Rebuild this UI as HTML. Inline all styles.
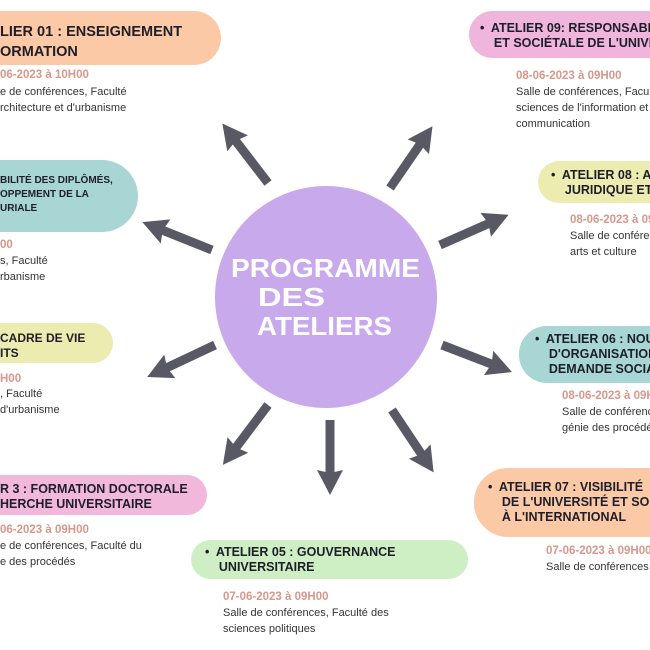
<!DOCTYPE html>
<html><head><meta charset="utf-8"><style>
html,body{margin:0;width:650px;height:650px;overflow:hidden}
#w{position:relative;width:650px;height:650px;overflow:hidden;background:#fff;font-family:"Liberation Sans",sans-serif;color:#222}
.p{position:absolute;border-radius:30px}
.t{position:absolute;font-weight:bold;color:#1e1e2a;white-space:nowrap;line-height:15px;font-size:12.5px}
.d{position:absolute;font-weight:bold;color:#d8978a;font-size:11.5px;white-space:nowrap}
.b{position:absolute;font-size:11px;line-height:16px;color:#333;white-space:nowrap}
</style></head><body><div id="w">
<div class="p" style="left:-40px;top:11px;width:261px;height:54px;background:#fbc9a6"></div>
<div class="t" style="left:0;top:22px;font-size:14.5px;line-height:20px">LIER 01 : ENSEIGNEMENT<br>ORMATION</div>
<div class="d" style="left:0;top:69px">06-2023 à 10H00</div>
<div class="b" style="left:0;top:84px">e de conférences, Faculté<br>rchitecture et d'urbanisme</div>

<div class="p" style="left:-40px;top:160px;width:178px;height:72px;background:#a8d6d4;border-radius:36px"></div>
<div class="t" style="left:0;top:174px;font-size:10px;line-height:14px">BILITÉ DES DIPLÔMÉS,<br>OPPEMENT DE LA<br>URIALE</div>
<div class="d" style="left:0;top:239px">00</div>
<div class="b" style="left:0;top:253px">s, Faculté<br>rbanisme</div>

<div class="p" style="left:-40px;top:323px;width:153px;height:40px;background:#ecebb0;border-radius:20px"></div>
<div class="t" style="left:0;top:331px;font-size:12px">CADRE DE VIE<br>ITS</div>
<div class="d" style="left:0;top:373px">H00</div>
<div class="b" style="left:0;top:386px">, Faculté<br>d'urbanisme</div>

<div class="p" style="left:-40px;top:475px;width:247px;height:40px;background:#f2b8dc;border-radius:20px"></div>
<div class="t" style="left:0;top:482px">R 3 : FORMATION DOCTORALE<br>HERCHE UNIVERSITAIRE</div>
<div class="d" style="left:0;top:524px">06-2023 à 09H00</div>
<div class="b" style="left:0;top:538px">e de conférences, Faculté du<br>e des procédés</div>

<div class="p" style="left:191px;top:540px;width:277px;height:39px;background:#cdefc3;border-radius:20px"></div>
<div class="t" style="left:205px;top:545px">•&nbsp; ATELIER 05 : GOUVERNANCE<br>&nbsp;&nbsp;&nbsp;&nbsp;UNIVERSITAIRE</div>
<div class="d" style="left:223px;top:591px">07-06-2023 à 09H00</div>
<div class="b" style="left:223px;top:605px">Salle de conférences, Faculté des<br>sciences politiques</div>

<div class="p" style="left:469px;top:11px;width:220px;height:47px;background:#efb5dc;border-radius:24px"></div>
<div class="t" style="left:480px;top:21px">•&nbsp; ATELIER 09: RESPONSABILITÉ<br>&nbsp;&nbsp;&nbsp;&nbsp;ET SOCIÉTALE DE L'UNIVERSITÉ</div>
<div class="d" style="left:516px;top:70px">08-06-2023 à 09H00</div>
<div class="b" style="left:516px;top:84px">Salle de conférences, Faculté des<br>sciences de l'information et de la<br>communication</div>

<div class="p" style="left:538px;top:161px;width:150px;height:42px;background:#ecebb0;border-radius:21px"></div>
<div class="t" style="left:551px;top:168px">•&nbsp; ATELIER 08 : ARSENAL<br>&nbsp;&nbsp;&nbsp;&nbsp;JURIDIQUE ET</div>
<div class="d" style="left:570px;top:214px">08-06-2023 à 09H00</div>
<div class="b" style="left:570px;top:228px">Salle de conférences<br>arts et culture</div>

<div class="p" style="left:519px;top:326px;width:170px;height:57px;background:#a8d6d4;border-radius:28px"></div>
<div class="t" style="left:535px;top:332px">•&nbsp; ATELIER 06 : NOUVEAUX<br>&nbsp;&nbsp;&nbsp;&nbsp;D'ORGANISATION<br>&nbsp;&nbsp;&nbsp;&nbsp;DEMANDE SOCIALE</div>
<div class="d" style="left:562px;top:390px">08-06-2023 à 09H00</div>
<div class="b" style="left:562px;top:404px">Salle de conférences<br>génie des procédés</div>

<div class="p" style="left:474px;top:468px;width:215px;height:69px;background:#fbc9a6;border-radius:34px"></div>
<div class="t" style="left:488px;top:480px">•&nbsp; ATELIER 07 : VISIBILITÉ<br>&nbsp;&nbsp;&nbsp;&nbsp;DE L'UNIVERSITÉ ET SON<br>&nbsp;&nbsp;&nbsp;&nbsp;À L'INTERNATIONAL</div>
<div class="d" style="left:546px;top:545px">07-06-2023 à 09H00</div>
<div class="b" style="left:546px;top:559px">Salle de conférences</div>

<svg width="650" height="650" style="position:absolute;left:0;top:0">
<circle cx="326" cy="297" r="111" fill="#c8a9ec"/>
<g fill="#fff" font-family="Liberation Sans,sans-serif" font-weight="bold" font-size="26">
<text x="231" y="277" textLength="189" lengthAdjust="spacingAndGlyphs">PROGRAMME</text>
<text x="258" y="306" textLength="67" lengthAdjust="spacingAndGlyphs">DES</text>
<text x="257" y="335" textLength="135" lengthAdjust="spacingAndGlyphs">ATELIERS</text></g>
<defs><path id="a" d="M0,-4.5 H52 L50,-13 L75,0 L50,13 L52,4.5 H0 Z" fill="#595966"/></defs>
<use href="#a" transform="translate(268,183) rotate(-127.5)"/>
<use href="#a" transform="translate(212,250) rotate(-158.2)"/>
<use href="#a" transform="translate(215,345) rotate(154.7)"/>
<use href="#a" transform="translate(268,405) rotate(127)"/>
<use href="#a" transform="translate(330,420) rotate(90)"/>
<use href="#a" transform="translate(392,410) rotate(56.3)"/>
<use href="#a" transform="translate(442,345) rotate(21.1)"/>
<use href="#a" transform="translate(440,245) rotate(-23.8)"/>
<use href="#a" transform="translate(390,188) rotate(-55.5)"/>
</svg>
</div></body></html>
